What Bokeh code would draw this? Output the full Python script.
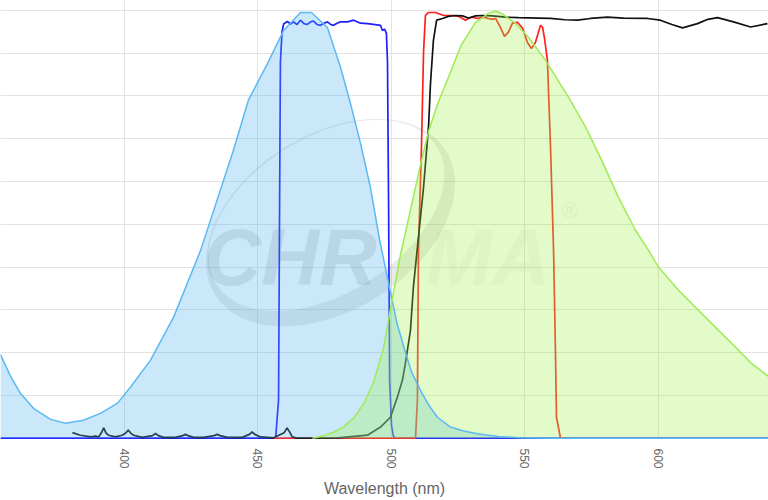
import numpy as np
from bokeh.plotting import figure
from bokeh.models import Range1d, FixedTicker, Grid
from bokeh.core.properties import value
from bokeh.embed import file_html
from bokeh.resources import INLINE

# ---------------- data ----------------
x_ticks = [400, 450, 500, 550, 600]
y_ticks = [0, 10, 20, 30, 40, 50, 60, 70, 80, 90, 100]

# dye excitation (light-blue filled)
ex_wl = [353.5, 357.3, 361.0, 365.9, 372.3, 377.9, 384.6, 391.0, 397.4, 402.2, 409.7, 418.4,
         428.5, 440.8, 446.4, 453.6, 459.6, 465.9, 470.0, 476.0, 480.9, 484.6, 488.4, 492.1,
         495.5, 499.0, 502.0, 505.0, 507.5, 511.0, 514.0, 517.2, 522.1, 527.0, 532.6, 540.0,
         548.0, 560.0, 641.5]
ex_val = [19.6, 14.5, 10.5, 7.0, 4.4, 3.5, 4.2, 5.8, 8.2, 11.9, 18.2, 28.3,
          43.9, 67.3, 79.0, 87.6, 95.3, 99.5, 99.5, 96.0, 86.7, 78.3, 68.9, 58.6,
          46.5, 36.0, 27.0, 20.5, 15.5, 11.0, 7.7, 4.9, 2.6, 1.7, 1.0, 0.4,
          0.1, 0.0, 0.0]

# dye emission (light-green filled)
em_wl = [470.4, 474.5, 478.3, 482.0, 486.0, 490.0, 493.5, 497.0, 500.0, 503.4, 507.1, 510.9,
         514.0, 517.5, 521.3, 526.2, 531.5, 536.3, 539.0, 541.2, 546.4, 551.3, 557.7, 566.3,
         572.7, 578.7, 585.0, 591.4, 596.3, 600.0, 607.5, 616.1, 622.5, 628.8, 634.8, 641.5]
em_val = [0.0, 0.6, 1.4, 2.6, 4.8, 8.5, 13.5, 21.0, 31.5, 43.0, 53.3, 64.0,
          72.0, 78.5, 84.3, 92.0, 97.2, 99.3, 99.8, 99.3, 97.0, 93.7, 88.3, 79.7,
          72.7, 65.0, 56.3, 48.6, 43.9, 40.0, 34.6, 29.2, 25.2, 21.3, 17.5, 14.3]

# excitation filter (blue line)
exf_wl = [353.5, 456.6, 457.7, 458.1, 458.4, 459.0, 459.6, 461.0, 462.2, 463.3, 464.6, 465.9,
          467.2, 468.5, 469.7, 470.8, 472.1, 473.4, 474.7, 476.0, 477.2, 478.3, 479.6, 480.9,
          483.5, 485.8, 488.4, 491.0, 493.3, 495.9, 496.6, 497.4, 498.1, 498.5, 498.9, 499.3,
          500.0, 500.7, 501.5, 641.5]
exf_val = [0.0, 0.0, 8.9, 55.6, 88.0, 95.0, 96.8, 97.4, 96.8, 97.3, 96.7, 97.7,
           96.9, 96.7, 97.3, 97.5, 96.7, 96.5, 97.0, 97.3, 96.7, 96.5, 97.0, 97.3,
           97.3, 97.7, 97.0, 96.9, 96.7, 96.5, 95.3, 95.6, 94.6, 88.0, 55.6, 13.6,
           3.0, 0.5, 0.0, 0.0]

# emission filter (red line)
emf_wl = [456.0, 509.0, 509.7, 510.1, 511.2, 512.0, 512.7, 513.9, 516.5, 519.5, 522.8, 525.1,
          527.7, 528.8, 530.3, 532.2, 534.5, 536.3, 537.8, 539.0, 540.8, 542.3, 543.8, 545.3,
          547.2, 549.1, 550.9, 552.4, 553.9, 555.8, 556.6, 557.3, 558.4, 559.6, 560.7, 561.4,
          561.8, 563.3, 566.0]
emf_val = [0.0, 0.0, 8.9, 43.9, 67.3, 90.2, 98.8, 99.5, 99.5, 98.8, 98.8, 98.6,
           97.7, 98.1, 98.4, 98.1, 98.4, 98.1, 97.9, 98.1, 96.0, 93.9, 94.9, 97.0,
           97.2, 95.8, 92.5, 91.1, 92.5, 96.5, 96.0, 93.5, 88.3, 67.3, 43.9, 20.6,
           4.9, 0.0, 0.0]

# dichroic (black line)
dic_wl = [380.5, 383.5, 387.3, 389.1, 390.3, 391.3, 392.2, 393.1, 394.0, 396.6, 399.1, 400.5,
          401.4, 402.3, 403.4, 406.6, 410.5, 411.6, 412.7, 414.6, 419.1, 421.8, 422.8, 423.8,
          425.8, 429.6, 433.6, 434.7, 435.8, 438.5, 444.1, 446.8, 447.8, 448.8, 450.9, 455.8,
          459.8, 460.9, 462.0, 462.8, 464.8, 480.0, 491.0, 495.9, 499.6, 502.2, 504.1, 505.2,
          507.1, 508.2, 510.1, 512.0, 513.9, 514.6, 515.7, 516.9, 519.1, 521.3, 524.0, 526.6,
          528.8, 531.5, 534.1, 537.8, 542.7, 547.6, 555.1, 559.6, 565.0, 569.7, 574.5, 580.9,
          586.9, 595.9, 600.7, 605.0, 609.0, 614.6, 618.5, 622.1, 628.1, 634.5, 640.8]
dic_val = [1.3, 0.7, 0.3, 0.5, 0.3, 1.2, 2.4, 1.2, 0.7, 0.3, 0.7, 1.2,
           1.9, 1.2, 0.7, 0.2, 0.6, 1.1, 0.6, 0.2, 0.2, 0.6, 0.9, 0.6,
           0.2, 0.2, 0.6, 0.9, 0.6, 0.2, 0.2, 0.9, 1.5, 0.9, 0.3, 0.1,
           1.3, 2.4, 1.3, 0.3, 0.0, 0.1, 0.7, 2.6, 4.9, 9.6, 13.6, 17.5,
           25.2, 35.3, 47.0, 58.6, 73.1, 82.9, 93.0, 97.7, 98.1, 98.6, 98.8, 98.7,
           98.2, 98.7, 98.8, 98.7, 98.4, 98.3, 98.2, 98.1, 97.8, 97.7, 98.1, 98.4,
           98.2, 98.1, 97.7, 96.7, 95.9, 96.9, 97.9, 98.3, 97.3, 96.1, 96.9]

# ---------------- layout ----------------
W, H = 768, 500
FRAME_H = 439
X0, X1 = 353.56, 641.2
Y0, Y1 = -0.3, 102.3

p = figure(width=W, height=H, output_backend="svg", toolbar_location=None,
           x_range=Range1d(X0, X1), y_range=Range1d(Y0, Y1),
           y_axis_location=None,
           min_border_left=0, min_border_right=0, min_border_top=0,
           min_border_bottom=H - FRAME_H)
p.outline_line_color = None
p.background_fill_color = "white"
p.border_fill_color = "white"

for g in p.ygrid:
    g.visible = False
p.add_layout(Grid(dimension=1, ticker=FixedTicker(ticks=y_ticks),
                  grid_line_color="#e3e3e3", grid_line_width=1))
p.xgrid.grid_line_color = "#e3e3e3"
p.xgrid.grid_line_width = 1

ax = p.xaxis[0]
ax.ticker = FixedTicker(ticks=x_ticks)
ax.axis_line_color = None
ax.major_tick_line_color = None
ax.minor_tick_line_color = None
ax.major_tick_out = 0
ax.major_tick_in = 0
ax.major_label_orientation = "vertical"
ax.major_label_standoff = 9
ax.major_label_text_font = "Liberation Sans"
ax.major_label_text_font_size = "12px"
ax.major_label_text_color = "#666666"
ax.axis_label = "Wavelength (nm)"
ax.axis_label_text_font = "Liberation Sans"
ax.axis_label_text_font_style = "normal"
ax.axis_label_text_font_size = "16px"
ax.axis_label_text_color = "#666666"
ax.axis_label_standoff = 8

# ---------------- watermark (decoration) ----------------
def px2x(px):
    return X0 + px * (X1 - X0) / W

def px2y(py):
    return Y1 - py * (Y1 - Y0) / FRAME_H

def ellipse_pts(cx, cy, a, b, rot_deg, n=120):
    t = np.linspace(0, 2 * np.pi, n)
    th = np.radians(rot_deg)
    u = a * np.cos(t) * np.cos(th) - b * np.sin(t) * np.sin(th)
    v = a * np.cos(t) * np.sin(th) + b * np.sin(t) * np.cos(th)
    return [px2x(cx + uu) for uu in u], [px2y(cy - vv) for vv in v]

ox, oy = ellipse_pts(330, 222, 136, 88, 32)
ix, iy = ellipse_pts(326, 215, 130, 78, 32)
p.multi_polygons(xs=[[[ox, ix]]], ys=[[[oy, iy]]], fill_color="#808080",
                 fill_alpha=0.17, line_color=None)

wm_font = value("Liberation Sans")
p.text(x=[px2x(203)], y=[px2y(257)], text=["CHR"], text_font=wm_font,
       text_font_style="bold italic", text_font_size="80px", text_color="#7f7f7f",
       text_alpha=0.2, text_baseline="alphabetic", text_align="left")
p.text(x=[px2x(425)], y=[px2y(257)], text=["MA"], text_font=wm_font,
       text_font_style="bold italic", text_font_size="80px", text_color="#7f7f7f",
       text_alpha=0.07, text_baseline="alphabetic", text_align="left")
p.text(x=[px2x(561)], y=[px2y(210)], text=["®"], text_font=wm_font,
       text_font_size="22px", text_color="#7f7f7f", text_alpha=0.15,
       text_baseline="alphabetic", text_align="left")

# ---------------- filter lines ----------------
p.line(exf_wl, exf_val, line_color="#1f1fff", line_width=1.7)
p.line(emf_wl, emf_val, line_color="#ff1f1f", line_width=1.7)
p.line(dic_wl, dic_val, line_color="#111111", line_width=1.7)

# ---------------- dye spectra (filled) ----------------
p.varea(x=ex_wl, y1=[0] * len(ex_wl), y2=ex_val, fill_color="#52b2f2", fill_alpha=0.3)
p.varea(x=em_wl, y1=[0] * len(em_wl), y2=em_val, fill_color="#9ef24b", fill_alpha=0.3)
p.line(ex_wl, ex_val, line_color="#5bb9f2", line_width=1.5)
p.line(em_wl, em_val, line_color="#9eeb55", line_width=1.5)

open("out.html", "w").write(file_html(p, INLINE))
